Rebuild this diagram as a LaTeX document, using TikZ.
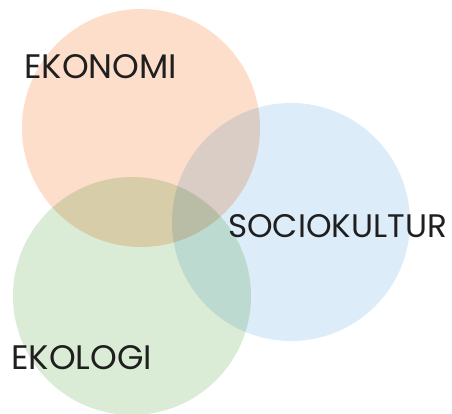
\documentclass[tikz,border=0pt]{standalone}
\usepackage{fontspec}
\setmainfont{Poppins}
\usetikzlibrary{calc}

\begin{document}
\begin{tikzpicture} [x=1pt, y=-1pt]
\useasboundingbox (0,0) rectangle (452,414);
\definecolor{orangefill}{RGB}{252,222,202}
\definecolor{bluefill}{RGB}{220,236,249}
\definecolor{greenfill}{RGB}{219,236,214}
\tikzset{area/.style={draw=none, blend mode=multiply}, lbl/.style={anchor=base west, inner sep=0, font=\fontsize{34}{34}\selectfont, text=black!88}}
\begin{scope}[transparency group]
\fill[orangefill, area] (141,128) circle (119);
\fill[bluefill, area] (291,222) circle (119);
\fill[greenfill, area] (132,296) circle (119);
\end{scope}
\node[lbl] (ekonomi) at (24,79) {EKONOMI};
\node[lbl, font=\fontsize{32.6}{33}\selectfont] (sociokultur) at (228,237) {SOCIOKULTUR};
\node[lbl] (ekologi) at (11,369) {EKOLOGI};
\end{tikzpicture}
\end{document}
